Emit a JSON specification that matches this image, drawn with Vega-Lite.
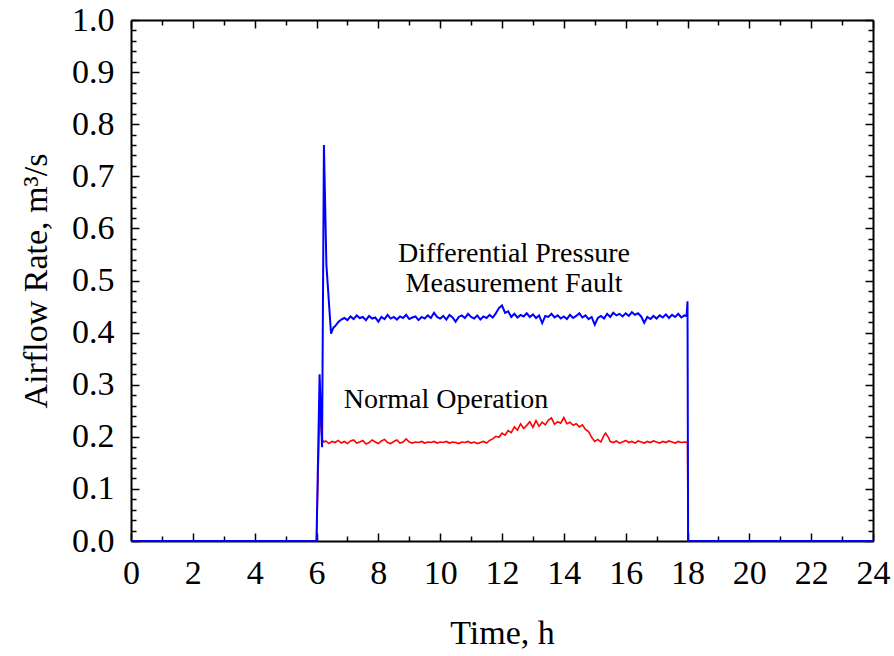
{
  "$schema": "https://vega.github.io/schema/vega-lite/v6.json",
  "width": 742,
  "height": 521,
  "autosize": "none",
  "padding": {"left": 131, "top": 20, "right": 21, "bottom": 115},
  "background": "white",
  "config": {
    "view": {"stroke": null},
    "font": "Liberation Serif",
    "axis": {"grid": false, "labelFont": "Liberation Serif", "titleFont": "Liberation Serif", "labelColor": "black", "titleColor": "black", "titleFontWeight": "normal", "domainColor": "black", "tickColor": "black", "domainWidth": 2, "tickWidth": 1.5}
  },
  "datasets": {
    "normal": [
      {"t": 0, "v": 0}, {"t": 6.0, "v": 0}, {"t": 6.1, "v": 0.25}, {"t": 6.18, "v": 0.195}, {"t": 6.24, "v": 0.19},
      {"t": 6.3, "v": 0.192}, {"t": 6.4, "v": 0.187}, {"t": 6.5, "v": 0.191}, {"t": 6.6, "v": 0.189}, {"t": 6.7, "v": 0.193},
      {"t": 6.8, "v": 0.188}, {"t": 6.9, "v": 0.191}, {"t": 7.0, "v": 0.187}, {"t": 7.1, "v": 0.192}, {"t": 7.2, "v": 0.194},
      {"t": 7.3, "v": 0.188}, {"t": 7.4, "v": 0.19}, {"t": 7.5, "v": 0.193}, {"t": 7.6, "v": 0.186}, {"t": 7.7, "v": 0.189},
      {"t": 7.8, "v": 0.194}, {"t": 7.9, "v": 0.19}, {"t": 8.0, "v": 0.187}, {"t": 8.1, "v": 0.192}, {"t": 8.2, "v": 0.195},
      {"t": 8.3, "v": 0.189}, {"t": 8.4, "v": 0.187}, {"t": 8.5, "v": 0.191}, {"t": 8.6, "v": 0.194}, {"t": 8.7, "v": 0.188},
      {"t": 8.8, "v": 0.19}, {"t": 8.9, "v": 0.196}, {"t": 9.0, "v": 0.19}, {"t": 9.1, "v": 0.188}, {"t": 9.2, "v": 0.19},
      {"t": 9.3, "v": 0.189}, {"t": 9.4, "v": 0.191}, {"t": 9.5, "v": 0.188}, {"t": 9.6, "v": 0.19}, {"t": 9.7, "v": 0.189},
      {"t": 9.8, "v": 0.191}, {"t": 9.9, "v": 0.188}, {"t": 10.0, "v": 0.19}, {"t": 10.1, "v": 0.189}, {"t": 10.2, "v": 0.191},
      {"t": 10.3, "v": 0.188}, {"t": 10.4, "v": 0.19}, {"t": 10.5, "v": 0.189}, {"t": 10.6, "v": 0.187}, {"t": 10.7, "v": 0.19},
      {"t": 10.8, "v": 0.189}, {"t": 10.9, "v": 0.191}, {"t": 11.0, "v": 0.188}, {"t": 11.1, "v": 0.19}, {"t": 11.2, "v": 0.187},
      {"t": 11.3, "v": 0.189}, {"t": 11.4, "v": 0.191}, {"t": 11.5, "v": 0.188}, {"t": 11.6, "v": 0.193}, {"t": 11.7, "v": 0.196},
      {"t": 11.8, "v": 0.201}, {"t": 11.9, "v": 0.199}, {"t": 12.0, "v": 0.207}, {"t": 12.1, "v": 0.203}, {"t": 12.2, "v": 0.212},
      {"t": 12.3, "v": 0.208}, {"t": 12.4, "v": 0.219}, {"t": 12.5, "v": 0.213}, {"t": 12.6, "v": 0.225}, {"t": 12.7, "v": 0.216},
      {"t": 12.8, "v": 0.222}, {"t": 12.9, "v": 0.229}, {"t": 13.0, "v": 0.218}, {"t": 13.1, "v": 0.231}, {"t": 13.2, "v": 0.22},
      {"t": 13.3, "v": 0.228}, {"t": 13.4, "v": 0.223}, {"t": 13.5, "v": 0.232}, {"t": 13.6, "v": 0.236}, {"t": 13.7, "v": 0.224},
      {"t": 13.8, "v": 0.229}, {"t": 13.9, "v": 0.226}, {"t": 14.0, "v": 0.237}, {"t": 14.1, "v": 0.225}, {"t": 14.2, "v": 0.228},
      {"t": 14.3, "v": 0.222}, {"t": 14.4, "v": 0.225}, {"t": 14.5, "v": 0.219}, {"t": 14.6, "v": 0.223}, {"t": 14.7, "v": 0.214},
      {"t": 14.8, "v": 0.21}, {"t": 14.9, "v": 0.199}, {"t": 15.0, "v": 0.191}, {"t": 15.1, "v": 0.195}, {"t": 15.2, "v": 0.19},
      {"t": 15.3, "v": 0.203}, {"t": 15.35, "v": 0.207}, {"t": 15.45, "v": 0.198}, {"t": 15.5, "v": 0.191}, {"t": 15.6, "v": 0.189},
      {"t": 15.7, "v": 0.192}, {"t": 15.8, "v": 0.188}, {"t": 15.9, "v": 0.19}, {"t": 16.0, "v": 0.193}, {"t": 16.1, "v": 0.189},
      {"t": 16.2, "v": 0.191}, {"t": 16.3, "v": 0.188}, {"t": 16.4, "v": 0.192}, {"t": 16.5, "v": 0.19}, {"t": 16.6, "v": 0.188},
      {"t": 16.7, "v": 0.191}, {"t": 16.8, "v": 0.189}, {"t": 16.9, "v": 0.192}, {"t": 17.0, "v": 0.19}, {"t": 17.1, "v": 0.188},
      {"t": 17.2, "v": 0.191}, {"t": 17.3, "v": 0.189}, {"t": 17.4, "v": 0.192}, {"t": 17.5, "v": 0.19}, {"t": 17.6, "v": 0.188},
      {"t": 17.7, "v": 0.191}, {"t": 17.8, "v": 0.189}, {"t": 17.9, "v": 0.19}, {"t": 18.0, "v": 0.189}, {"t": 18.02, "v": 0},
      {"t": 24, "v": 0}
    ],
    "fault": [
      {"t": 0, "v": 0}, {"t": 6.0, "v": 0}, {"t": 6.1, "v": 0.32}, {"t": 6.18, "v": 0.18}, {"t": 6.24, "v": 0.76},
      {"t": 6.32, "v": 0.53}, {"t": 6.47, "v": 0.398}, {"t": 6.55, "v": 0.41}, {"t": 6.6, "v": 0.412}, {"t": 6.7, "v": 0.42},
      {"t": 6.8, "v": 0.425}, {"t": 6.9, "v": 0.428}, {"t": 7.0, "v": 0.424}, {"t": 7.1, "v": 0.431}, {"t": 7.2, "v": 0.426},
      {"t": 7.3, "v": 0.433}, {"t": 7.4, "v": 0.428}, {"t": 7.5, "v": 0.43}, {"t": 7.6, "v": 0.424}, {"t": 7.7, "v": 0.432},
      {"t": 7.8, "v": 0.427}, {"t": 7.9, "v": 0.429}, {"t": 8.0, "v": 0.421}, {"t": 8.1, "v": 0.43}, {"t": 8.2, "v": 0.426},
      {"t": 8.3, "v": 0.434}, {"t": 8.4, "v": 0.427}, {"t": 8.5, "v": 0.43}, {"t": 8.6, "v": 0.425}, {"t": 8.7, "v": 0.431},
      {"t": 8.8, "v": 0.428}, {"t": 8.9, "v": 0.434}, {"t": 9.0, "v": 0.426}, {"t": 9.1, "v": 0.429}, {"t": 9.2, "v": 0.431},
      {"t": 9.3, "v": 0.424}, {"t": 9.4, "v": 0.43}, {"t": 9.5, "v": 0.427}, {"t": 9.6, "v": 0.433}, {"t": 9.7, "v": 0.428},
      {"t": 9.8, "v": 0.438}, {"t": 9.9, "v": 0.43}, {"t": 10.0, "v": 0.427}, {"t": 10.1, "v": 0.432}, {"t": 10.2, "v": 0.425},
      {"t": 10.3, "v": 0.434}, {"t": 10.4, "v": 0.429}, {"t": 10.5, "v": 0.421}, {"t": 10.6, "v": 0.43}, {"t": 10.7, "v": 0.433},
      {"t": 10.8, "v": 0.428}, {"t": 10.9, "v": 0.436}, {"t": 11.0, "v": 0.43}, {"t": 11.1, "v": 0.427}, {"t": 11.2, "v": 0.433},
      {"t": 11.3, "v": 0.425}, {"t": 11.4, "v": 0.431}, {"t": 11.5, "v": 0.428}, {"t": 11.6, "v": 0.434}, {"t": 11.7, "v": 0.429},
      {"t": 11.8, "v": 0.437}, {"t": 11.9, "v": 0.447}, {"t": 12.0, "v": 0.452}, {"t": 12.1, "v": 0.438}, {"t": 12.2, "v": 0.441},
      {"t": 12.3, "v": 0.43}, {"t": 12.4, "v": 0.436}, {"t": 12.5, "v": 0.429}, {"t": 12.6, "v": 0.434}, {"t": 12.7, "v": 0.431},
      {"t": 12.8, "v": 0.437}, {"t": 12.9, "v": 0.43}, {"t": 13.0, "v": 0.435}, {"t": 13.1, "v": 0.428}, {"t": 13.2, "v": 0.433},
      {"t": 13.3, "v": 0.418}, {"t": 13.4, "v": 0.432}, {"t": 13.5, "v": 0.43}, {"t": 13.6, "v": 0.436}, {"t": 13.7, "v": 0.429},
      {"t": 13.8, "v": 0.433}, {"t": 13.9, "v": 0.427}, {"t": 14.0, "v": 0.431}, {"t": 14.1, "v": 0.426}, {"t": 14.2, "v": 0.434},
      {"t": 14.3, "v": 0.428}, {"t": 14.4, "v": 0.432}, {"t": 14.5, "v": 0.437}, {"t": 14.6, "v": 0.429}, {"t": 14.7, "v": 0.433},
      {"t": 14.8, "v": 0.426}, {"t": 14.9, "v": 0.43}, {"t": 15.0, "v": 0.415}, {"t": 15.1, "v": 0.428}, {"t": 15.2, "v": 0.432},
      {"t": 15.3, "v": 0.427}, {"t": 15.4, "v": 0.436}, {"t": 15.5, "v": 0.43}, {"t": 15.6, "v": 0.438}, {"t": 15.7, "v": 0.433},
      {"t": 15.8, "v": 0.436}, {"t": 15.9, "v": 0.431}, {"t": 16.0, "v": 0.437}, {"t": 16.1, "v": 0.432}, {"t": 16.2, "v": 0.439},
      {"t": 16.3, "v": 0.434}, {"t": 16.4, "v": 0.437}, {"t": 16.5, "v": 0.431}, {"t": 16.6, "v": 0.419}, {"t": 16.7, "v": 0.43},
      {"t": 16.8, "v": 0.426}, {"t": 16.9, "v": 0.432}, {"t": 17.0, "v": 0.427}, {"t": 17.1, "v": 0.433}, {"t": 17.2, "v": 0.429},
      {"t": 17.3, "v": 0.435}, {"t": 17.4, "v": 0.428}, {"t": 17.5, "v": 0.434}, {"t": 17.6, "v": 0.43}, {"t": 17.7, "v": 0.436},
      {"t": 17.8, "v": 0.429}, {"t": 17.9, "v": 0.433}, {"t": 17.97, "v": 0.432}, {"t": 18.0, "v": 0.46}, {"t": 18.02, "v": 0},
      {"t": 24, "v": 0}
    ],
    "notes": [
      {"t": 12.39, "v": 0.551, "label": "Differential Pressure"},
      {"t": 12.39, "v": 0.493, "label": "Measurement Fault"},
      {"t": 10.19, "v": 0.271, "label": "Normal Operation"}
    ]
  },
  "resolve": {"axis": {"x": "independent", "y": "independent"}},
  "layer": [
    {
      "data": {"name": "normal"},
      "mark": {"type": "line", "color": "#ff0000", "strokeWidth": 1.6},
      "encoding": {
        "x": {"field": "t", "type": "quantitative", "scale": {"domain": [0, 24], "nice": false, "zero": false},
          "axis": {"orient": "bottom", "values": [0, 2, 4, 6, 8, 10, 12, 14, 16, 18, 20, 22, 24], "title": "Time, h", "labelFontSize": 34, "titleFontSize": 34, "ticks": false, "labelPadding": 15, "titlePadding": 26, "labelFlush": false, "labelOverlap": false}},
        "y": {"field": "v", "type": "quantitative", "scale": {"domain": [0, 1], "nice": false, "zero": false},
          "axis": {"orient": "left", "values": [0, 0.1, 0.2, 0.3, 0.4, 0.5, 0.6, 0.7, 0.8, 0.9, 1.0], "format": ".1f", "title": "Airflow Rate, m³/s", "labelFontSize": 34, "titleFontSize": 34, "ticks": false, "labelPadding": 17, "titlePadding": 18, "labelFlush": false, "labelOverlap": false}}
      }
    },
    {
      "data": {"name": "fault"},
      "mark": {"type": "line", "color": "#0000ff", "strokeWidth": 2},
      "encoding": {
        "x": {"field": "t", "type": "quantitative", "scale": {"domain": [0, 24], "nice": false, "zero": false}, "axis": null},
        "y": {"field": "v", "type": "quantitative", "scale": {"domain": [0, 1], "nice": false, "zero": false}, "axis": null}
      }
    },
    {
      "data": {"name": "notes"},
      "mark": {"type": "text", "font": "Liberation Serif", "fontSize": 28, "color": "black", "align": "center", "baseline": "middle"},
      "encoding": {
        "x": {"field": "t", "type": "quantitative", "scale": {"domain": [0, 24], "nice": false, "zero": false}, "axis": null},
        "y": {"field": "v", "type": "quantitative", "scale": {"domain": [0, 1], "nice": false, "zero": false}, "axis": null},
        "text": {"field": "label"}
      }
    },
    {
      "data": {"name": "normal"},
      "mark": {"type": "point", "opacity": 0},
      "encoding": {
        "x": {"field": "t", "type": "quantitative", "scale": {"domain": [0, 24], "nice": false, "zero": false},
          "axis": {"orient": "bottom", "values": [0, 2, 4, 6, 8, 10, 12, 14, 16, 18, 20, 22, 24], "labels": false, "domain": false, "tickSize": -8, "title": null}},
        "y": {"field": "v", "type": "quantitative", "scale": {"domain": [0, 1], "nice": false, "zero": false},
          "axis": {"orient": "left", "values": [0, 0.1, 0.2, 0.3, 0.4, 0.5, 0.6, 0.7, 0.8, 0.9, 1.0], "labels": false, "domain": false, "tickSize": -8, "title": null}}
      }
    },
    {
      "data": {"name": "normal"},
      "mark": {"type": "point", "opacity": 0},
      "encoding": {
        "x": {"field": "t", "type": "quantitative", "scale": {"domain": [0, 24], "nice": false, "zero": false},
          "axis": {"orient": "bottom", "values": [1, 3, 5, 7, 9, 11, 13, 15, 17, 19, 21, 23], "labels": false, "domain": false, "tickSize": -5, "title": null}},
        "y": {"field": "v", "type": "quantitative", "scale": {"domain": [0, 1], "nice": false, "zero": false},
          "axis": {"orient": "left", "values": [0.02, 0.04, 0.06, 0.08, 0.12, 0.14, 0.16, 0.18, 0.22, 0.24, 0.26, 0.28, 0.32, 0.34, 0.36, 0.38, 0.42, 0.44, 0.46, 0.48, 0.52, 0.54, 0.56, 0.58, 0.62, 0.64, 0.66, 0.68, 0.72, 0.74, 0.76, 0.78, 0.82, 0.84, 0.86, 0.88, 0.92, 0.94, 0.96, 0.98], "labels": false, "domain": false, "tickSize": -5, "title": null}}
      }
    },
    {
      "data": {"name": "normal"},
      "mark": {"type": "point", "opacity": 0},
      "encoding": {
        "x": {"field": "t", "type": "quantitative", "scale": {"domain": [0, 24], "nice": false, "zero": false},
          "axis": {"orient": "top", "values": [0, 2, 4, 6, 8, 10, 12, 14, 16, 18, 20, 22, 24], "labels": false, "domain": true, "tickSize": -8, "title": null}},
        "y": {"field": "v", "type": "quantitative", "scale": {"domain": [0, 1], "nice": false, "zero": false},
          "axis": {"orient": "right", "values": [0, 0.1, 0.2, 0.3, 0.4, 0.5, 0.6, 0.7, 0.8, 0.9, 1.0], "labels": false, "domain": true, "tickSize": -8, "title": null}}
      }
    },
    {
      "data": {"name": "normal"},
      "mark": {"type": "point", "opacity": 0},
      "encoding": {
        "x": {"field": "t", "type": "quantitative", "scale": {"domain": [0, 24], "nice": false, "zero": false},
          "axis": {"orient": "top", "values": [1, 3, 5, 7, 9, 11, 13, 15, 17, 19, 21, 23], "labels": false, "domain": false, "tickSize": -5, "title": null}},
        "y": {"field": "v", "type": "quantitative", "scale": {"domain": [0, 1], "nice": false, "zero": false},
          "axis": {"orient": "right", "values": [0.02, 0.04, 0.06, 0.08, 0.12, 0.14, 0.16, 0.18, 0.22, 0.24, 0.26, 0.28, 0.32, 0.34, 0.36, 0.38, 0.42, 0.44, 0.46, 0.48, 0.52, 0.54, 0.56, 0.58, 0.62, 0.64, 0.66, 0.68, 0.72, 0.74, 0.76, 0.78, 0.82, 0.84, 0.86, 0.88, 0.92, 0.94, 0.96, 0.98], "labels": false, "domain": false, "tickSize": -5, "title": null}}
      }
    }
  ]
}
